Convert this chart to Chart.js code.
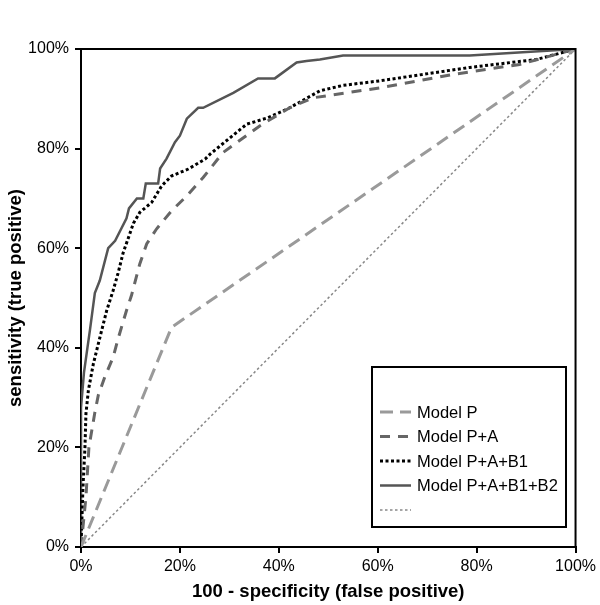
<!DOCTYPE html>
<html>
<head>
<meta charset="utf-8">
<script src="https://cdn.jsdelivr.net/npm/chart.js@4.4.1/dist/chart.umd.min.js"></script>
<style>
  html, body { margin: 0; padding: 0; background: #fff; }
  #wrap { width: 600px; height: 605px; position: relative; }
</style>
</head>
<body>
<div id="wrap"><canvas id="roc"></canvas></div>
<script>
// ROC curves, values in percent: x = 100 - specificity, y = sensitivity
const seriesLabels = ["Model P", "Model P+A", "Model P+A+B1", "Model P+A+B1+B2", ""];

const modelP_x = [0, 18.3, 100];
const modelP_y = [0, 44.1, 100];

const modelPA_x = [0, 1, 1.6, 2.8, 3.5, 4.8, 6.5, 7.5, 9.2, 10.2, 11.9, 13.3, 15.3, 18.3, 21.4, 24.7, 28.7, 36.2, 42.2, 46.9, 53.7, 60.4, 75.2, 88.7, 100];
const modelPA_y = [0, 10, 20, 27, 30.5, 34.1, 38.1, 41.8, 47.5, 50.5, 56.9, 60.9, 63.9, 67.5, 70.5, 74.2, 79.2, 84.6, 88.2, 90.2, 91.2, 92.2, 94.9, 96.9, 100];

const modelPAB1_x = [0, 0.4, 0.8, 1, 1.5, 2.5, 3.8, 5.2, 6.5, 7.5, 8.5, 9.2, 10.6, 11.9, 14.3, 16.3, 18.3, 21.7, 25.1, 26.1, 33.5, 37.8, 42.2, 48.3, 53, 60.4, 78.6, 92.1, 100];
const modelPAB1_y = [0, 12, 20, 26.8, 31.5, 36.8, 42, 47.5, 51.5, 55, 59, 61, 65, 67.2, 69.2, 72.5, 74.5, 75.9, 77.9, 78.9, 84.9, 86.2, 88.2, 91.6, 92.7, 93.6, 96.3, 97.9, 100];

const modelPAB1B2_x = [0, 0, 0.6, 1.3, 1.8, 2.8, 3.8, 5.5, 6.9, 9.2, 9.7, 11.3, 12.6, 13.1, 15.6, 16, 17.3, 19, 20, 21.4, 23.7, 24.7, 30.8, 35.8, 39.2, 43.6, 45.6, 48.3, 53, 78.6, 100];
const modelPAB1B2_y = [0, 28, 35, 40, 43.5, 51, 53.5, 60, 61.5, 66, 68, 70, 70, 73, 73, 76, 78, 81.3, 82.6, 86, 88.2, 88.2, 91.2, 94.1, 94.1, 97.3, 97.6, 97.9, 98.7, 98.7, 100];

const reference_x = [0, 100];
const reference_y = [0, 100];

const tickValues = [0, 20, 40, 60, 80, 100];

const FONT = "Arial, 'Liberation Sans', sans-serif";

function pts(xs, ys) {
  return xs.map((x, i) => ({ x: x, y: ys[i] }));
}

// top/right frame of the plot area
const frame = {
  id: "frame",
  afterDraw(chart) {
    const { ctx, chartArea: a } = chart;
    ctx.save();
    ctx.strokeStyle = "#000";
    ctx.lineWidth = 2;
    ctx.beginPath();
    ctx.moveTo(a.left, a.top);
    ctx.lineTo(a.right, a.top);
    ctx.lineTo(a.right, a.bottom);
    ctx.stroke();
    ctx.restore();
  },
};

// boxed legend inside the plot
const boxLegend = {
  id: "boxLegend",
  afterDraw(chart) {
    const { ctx } = chart;
    ctx.save();
    ctx.strokeStyle = "#000";
    ctx.lineWidth = 2;
    ctx.strokeRect(372, 367, 194, 160);
    ctx.font = "16.5px " + FONT;
    ctx.textBaseline = "middle";
    chart.data.datasets.forEach((ds, i) => {
      const y = 412 + i * 24.5;
      ctx.strokeStyle = ds.borderColor;
      ctx.lineWidth = ds.borderWidth;
      ctx.setLineDash(ds.borderDash || []);
      ctx.beginPath();
      ctx.moveTo(380, y);
      ctx.lineTo(411, y);
      ctx.stroke();
      ctx.setLineDash([]);
      ctx.fillStyle = "#000";
      ctx.fillText(ds.label, 417, y + 1);
    });
    ctx.restore();
  },
};

const ctx = document.getElementById("roc");

new Chart(ctx, {
  type: "line",
  data: {
    datasets: [
      { label: seriesLabels[0], data: pts(modelP_x, modelP_y), borderColor: "#9a9a9a", borderWidth: 3, borderDash: [13, 7] },
      { label: seriesLabels[1], data: pts(modelPA_x, modelPA_y), borderColor: "#666666", borderWidth: 3, borderDash: [10, 8] },
      { label: seriesLabels[2], data: pts(modelPAB1_x, modelPAB1_y), borderColor: "#000000", borderWidth: 3, borderDash: [3, 2.5] },
      { label: seriesLabels[3], data: pts(modelPAB1B2_x, modelPAB1B2_y), borderColor: "#555555", borderWidth: 2.5 },
      { label: seriesLabels[4], data: pts(reference_x, reference_y), borderColor: "#888888", borderWidth: 1.5, borderDash: [2.5, 2.5] },
    ],
  },
  options: {
    responsive: true,
    maintainAspectRatio: false,
    animation: false,
    layout: { padding: { top: 49, right: 24, left: 0, bottom: 0 } },
    elements: { point: { radius: 0 }, line: { tension: 0, fill: false } },
    plugins: { legend: { display: false }, tooltip: { enabled: false } },
    scales: {
      x: {
        type: "linear",
        min: 0,
        max: 100,
        afterBuildTicks: (scale) => { scale.ticks = tickValues.map((v) => ({ value: v })); },
        afterFit: (scale) => { scale.height = 58; },
        border: { display: true, color: "#000", width: 2 },
        grid: { drawOnChartArea: false, drawTicks: true, tickLength: 6, color: "#000", lineWidth: 2 },
        ticks: { color: "#000", padding: 4, font: { family: FONT, size: 16 }, callback: (v) => v + "%" },
        title: { display: true, text: "100 - specificity (false positive)", color: "#000", padding: { top: 0, bottom: 2 }, font: { family: FONT, size: 18.5, weight: "bold" } },
      },
      y: {
        type: "linear",
        min: 0,
        max: 100,
        afterBuildTicks: (scale) => { scale.ticks = tickValues.map((v) => ({ value: v })); },
        afterFit: (scale) => { scale.width = 81; },
        border: { display: true, color: "#000", width: 2 },
        grid: { drawOnChartArea: false, drawTicks: true, tickLength: 6, color: "#000", lineWidth: 2 },
        ticks: { color: "#000", padding: 6, font: { family: FONT, size: 16 }, callback: (v) => v + "%" },
        title: { display: true, text: "sensitivity (true positive)", color: "#000", padding: { top: 5, bottom: 0 }, font: { family: FONT, size: 18.5, weight: "bold" } },
      },
    },
  },
  plugins: [frame, boxLegend],
});
</script>
</body>
</html>
